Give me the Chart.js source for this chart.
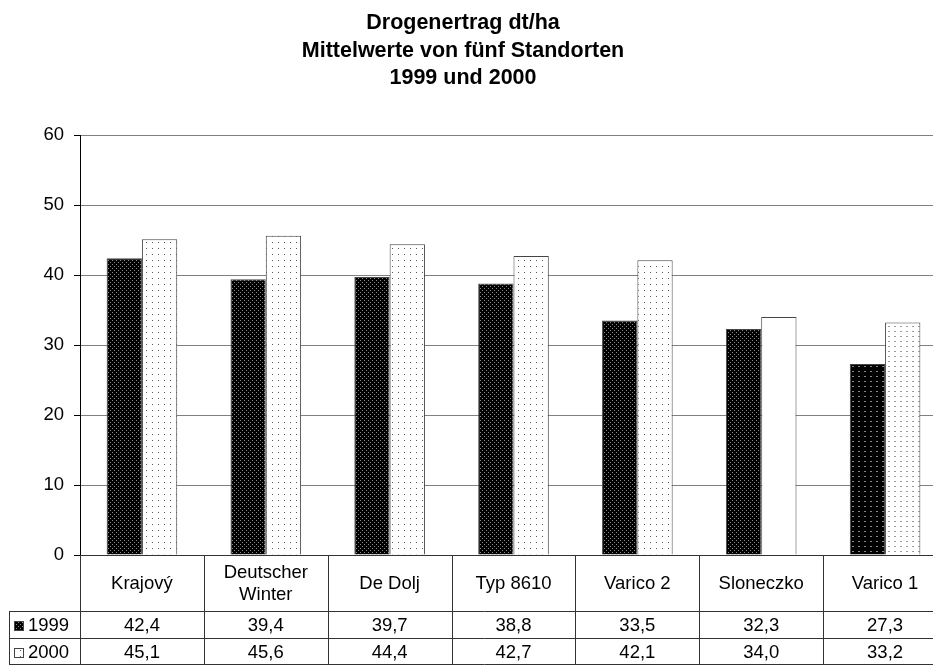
<!DOCTYPE html>
<html>
<head>
<meta charset="utf-8">
<script src="https://cdn.jsdelivr.net/npm/chart.js@4.4.1/dist/chart.umd.min.js"></script>
<style>
  html, body { margin: 0; padding: 0; background: #fff; overflow: hidden; }
  #wrap { width: 960px; height: 665px; }
</style>
</head>
<body>
<div id="wrap"><canvas id="c" width="960" height="665"></canvas></div>
<script>
// Drug yield (dt/ha), mean over five sites, 1999 and 2000
const titleLines = ['Drogenertrag dt/ha', 'Mittelwerte von fünf Standorten', '1999 und 2000'];
const categories = ['Krajový', 'Deutscher\nWinter', 'De Dolj', 'Typ 8610', 'Varico 2', 'Sloneczko', 'Varico 1'];
const seriesNames = ['1999', '2000'];
const values1999 = [42.4, 39.4, 39.7, 38.8, 33.5, 32.3, 27.3];
const values2000 = [45.1, 45.6, 44.4, 42.7, 42.1, 34.0, 33.2];
const yTicks = [0, 10, 20, 30, 40, 50, 60];

const FONT = '"Liberation Sans", Arial, sans-serif';
const TEXT_SIZE = 18.5;

// small tiled fill patterns
function makePattern(w, h, bg, dots) {
  const c = document.createElement('canvas');
  c.width = w; c.height = h;
  const g = c.getContext('2d');
  g.fillStyle = bg; g.fillRect(0, 0, w, h);
  dots.forEach(([x, y, col]) => { g.fillStyle = col; g.fillRect(x, y, 1, 1); });
  return g.createPattern(c, 'repeat');
}
const ctxMain = document.getElementById('c').getContext('2d');
const darkDots = makePattern(4, 4, '#000', [[0, 0, '#8a8a8a'], [2, 2, '#8a8a8a']]);
const lightDots = makePattern(6, 6, '#fff', [[2, 2, '#555']]);
const darkDash = makePattern(6, 5, '#000', [[0, 1, '#888'], [1, 1, '#888']]);
const lightDash = makePattern(6, 5, '#fff', [[0, 1, '#999'], [1, 1, '#999']]);

const fill1999 = values1999.map((v, i) => i === 6 ? darkDash : darkDots);
const fill2000 = values2000.map((v, i) => i === 5 ? '#fff' : (i === 6 ? lightDash : lightDots));

const fmt = v => v.toFixed(1).replace('.', ',');

// title and data-table drawing
const tablePlugin = {
  id: 'dataTable',
  afterDraw(chart) {
    const ctx = chart.ctx;
    const ca = chart.chartArea;
    const xs = chart.scales.x;
    const n = categories.length;
    const colW = (ca.right - ca.left) / n;
    const W = chart.width;
    const r0 = ca.bottom, r1 = 611, r2 = 638, r3 = 665;
    const leftX = 9;

    ctx.save();
    // title
    ctx.fillStyle = '#000';
    ctx.textAlign = 'center';
    ctx.textBaseline = 'alphabetic';
    ctx.font = 'bold 21.5px ' + FONT;
    titleLines.forEach((t, i) => ctx.fillText(t, 463, 29 + i * 27.5));

    // grid of the table
    ctx.strokeStyle = '#333';
    ctx.lineWidth = 1;
    ctx.beginPath();
    ctx.moveTo(ca.left, Math.round(r0) + 0.5); ctx.lineTo(W, Math.round(r0) + 0.5);
    ctx.moveTo(leftX, r1 + 0.5); ctx.lineTo(W, r1 + 0.5);
    ctx.moveTo(leftX, r2 + 0.5); ctx.lineTo(W, r2 + 0.5);
    ctx.moveTo(leftX, r3 - 0.5); ctx.lineTo(W, r3 - 0.5);
    ctx.moveTo(leftX + 0.5, r1); ctx.lineTo(leftX + 0.5, r3);
    for (let i = 0; i <= n; i++) {
      const x = Math.round(ca.left + i * colW) + 0.5;
      ctx.moveTo(x, r0); ctx.lineTo(x, r3);
    }
    ctx.stroke();

    // category labels
    ctx.font = TEXT_SIZE + 'px ' + FONT;
    ctx.textBaseline = 'middle';
    ctx.fillStyle = '#000';
    const midCat = (r0 + r1) / 2 + 1;
    categories.forEach((c, i) => {
      const cx = xs.getPixelForValue(i);
      const lines = c.split('\n');
      const lh = 22.5;
      lines.forEach((l, k) => {
        ctx.fillText(l, cx, midCat + (k - (lines.length - 1) / 2) * lh);
      });
    });

    // series rows
    const rows = [[values1999, (r1 + r2) / 2 + 1, darkDots], [values2000, (r2 + r3) / 2 + 1, lightDots]];
    rows.forEach(([vals, y, pat], s) => {
      ctx.textAlign = 'center';
      vals.forEach((v, i) => ctx.fillText(fmt(v), xs.getPixelForValue(i), y));
      // legend key
      ctx.fillStyle = pat;
      ctx.fillRect(14, Math.round(y - 5), 10, 10);
      ctx.strokeStyle = '#444';
      ctx.strokeRect(14.5, Math.round(y - 5) + 0.5, 9, 9);
      ctx.fillStyle = '#000';
      ctx.textAlign = 'left';
      ctx.fillText(seriesNames[s], 28, y);
    });
    ctx.restore();
  }
};

new Chart(ctxMain, {
  type: 'bar',
  data: {
    labels: categories,
    datasets: [
      { label: seriesNames[0], data: values1999, backgroundColor: fill1999, borderColor: '#444', borderWidth: 1 },
      { label: seriesNames[1], data: values2000, backgroundColor: fill2000, borderColor: '#444', borderWidth: 1 }
    ]
  },
  options: {
    responsive: false,
    animation: false,
    events: [],
    layout: { padding: { top: 135, bottom: 110, left: 0, right: 13 } },
    plugins: { legend: { display: false }, title: { display: false }, tooltip: { enabled: false } },
    datasets: { bar: { categoryPercentage: 0.57, barPercentage: 1.0 } },
    scales: {
      x: { display: false },
      y: {
        min: 0, max: 60,
        afterFit(scale) { scale.width = 80; },
        afterBuildTicks(scale) { scale.ticks = yTicks.map(v => ({ value: v })); },
        ticks: { color: '#000', padding: 10, font: { family: FONT, size: TEXT_SIZE } },
        grid: { color: '#808080', lineWidth: 1, tickLength: 6, tickColor: '#000' },
        border: { display: true, color: '#000', width: 1 }
      }
    }
  },
  plugins: [tablePlugin]
});
</script>
</body>
</html>
